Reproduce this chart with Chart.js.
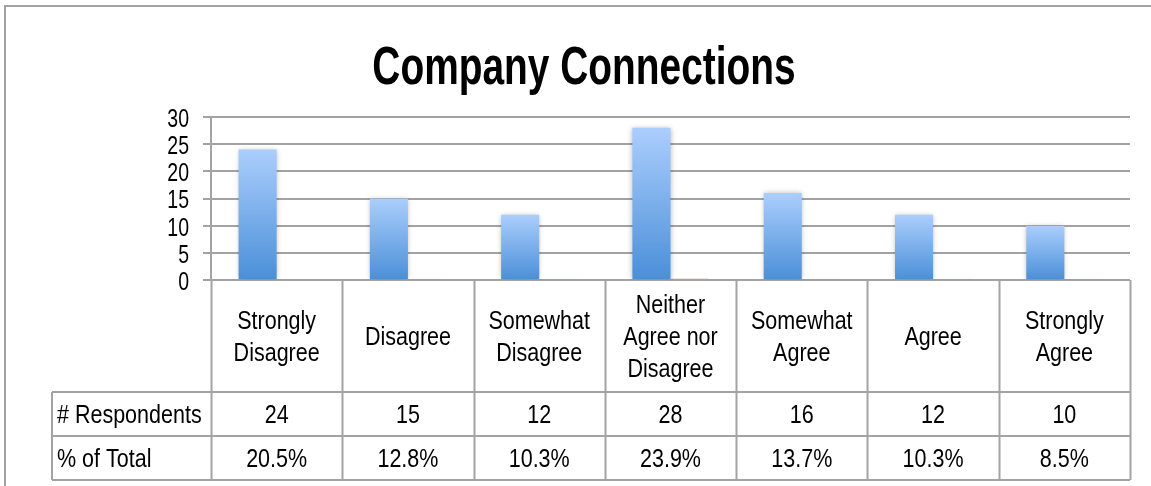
<!DOCTYPE html>
<html>
<head>
<meta charset="utf-8">
<title>Company Connections</title>
<script src="https://cdn.jsdelivr.net/npm/chart.js@4.4.1/dist/chart.umd.min.js"></script>
<style>
  html, body { margin: 0; padding: 0; background: #fff; }
  #wrap { position: relative; width: 1151px; height: 486px; }
</style>
</head>
<body>
<div id="wrap"><canvas id="connChart"></canvas></div>
<script>
// survey answers, one column each
const categories = [
    ['Strongly', 'Disagree'],
    ['Disagree'],
    ['Somewhat', 'Disagree'],
    ['Neither', 'Agree nor', 'Disagree'],
    ['Somewhat', 'Agree'],
    ['Agree'],
    ['Strongly', 'Agree']
];
const respondents = [24, 15, 12, 28, 16, 12, 10];
const pctOfTotal = [20.5, 12.8, 10.3, 23.9, 13.7, 10.3, 8.5];
const yTicks = [0, 5, 10, 15, 20, 25, 30];
const rowLabels = ['# Respondents', '% of Total'];
const chartTitle = 'Company Connections';

const FONT = "'Liberation Sans', Arial, sans-serif";
const LINE = '#a3a3a3';
const HEADER_H = 112;
const ROW_H = 44;
const TABLE_LEFT = 52;
// no narrow face is installed, so text is squeezed horizontally
const BODY_SX = 0.86;
const TICK_SX = 0.78;
const TITLE_SX = 0.72;

function squeezed(ctx, text, x, y, sx) {
    ctx.save();
    ctx.translate(x, y);
    ctx.scale(sx, 1);
    ctx.fillText(text, 0, 0);
    ctx.restore();
}

// outer frame, title, y labels and the data table under the plot
const tablePlugin = {
    id: 'dataTable',
    beforeDraw(chart) {
        const ctx = chart.ctx;
        ctx.save();
        ctx.strokeStyle = LINE;
        ctx.lineWidth = 2;
        ctx.beginPath();
        ctx.moveTo(5, 486);
        ctx.lineTo(5, 6);
        ctx.lineTo(1151, 6);
        ctx.stroke();
        ctx.restore();
    },
    beforeDatasetDraw(chart, args) {
        if (args.index !== 0) return;
        const ctx = chart.ctx;
        ctx.save();
        ctx.shadowColor = 'rgba(0,0,0,0.28)';
        ctx.shadowBlur = 5;
    },
    afterDatasetDraw(chart, args) {
        if (args.index !== 0) return;
        chart.ctx.restore();
    },
    afterDraw(chart) {
        const ctx = chart.ctx;
        const area = chart.chartArea;
        const xs = chart.scales.x;
        const ys = chart.scales.y;
        const n = categories.length;
        const w = (area.right - area.left) / n;
        const top = area.bottom;
        const headBottom = top + HEADER_H;
        const bottom = headBottom + ROW_H * rowLabels.length;

        ctx.save();
        ctx.fillStyle = '#000';

        // title
        ctx.font = 'bold 54px ' + FONT;
        ctx.textAlign = 'center';
        ctx.textBaseline = 'alphabetic';
        squeezed(ctx, chartTitle, 584, 84, TITLE_SX);

        // y tick labels
        ctx.font = '25px ' + FONT;
        ctx.textAlign = 'right';
        ctx.textBaseline = 'middle';
        ys.ticks.forEach(t => {
            squeezed(ctx, String(t.value), area.left - 22, ys.getPixelForValue(t.value) + 3, TICK_SX);
        });

        // grid of the table
        ctx.strokeStyle = LINE;
        ctx.lineWidth = 2;
        ctx.beginPath();
        for (let k = 0; k <= n; k++) {
            const x = Math.round(area.left + k * w) + 0.5;
            ctx.moveTo(x, top);
            ctx.lineTo(x, bottom);
        }
        for (let r = 0; r <= rowLabels.length; r++) {
            const y = headBottom + r * ROW_H;
            ctx.moveTo(TABLE_LEFT, y);
            ctx.lineTo(area.right, y);
        }
        ctx.moveTo(TABLE_LEFT, headBottom);
        ctx.lineTo(TABLE_LEFT, bottom);
        ctx.stroke();

        // header labels
        ctx.font = '25px ' + FONT;
        ctx.textAlign = 'center';
        const lh = 32;
        categories.forEach((lines, i) => {
            const cx = xs.getPixelForValue(i);
            const y0 = top + HEADER_H / 2 - (lines.length - 1) * lh / 2 + 2;
            lines.forEach((t, j) => squeezed(ctx, t, cx, y0 + j * lh, BODY_SX));
        });

        // value rows
        const rows = [respondents.map(String), pctOfTotal.map(v => v.toFixed(1) + '%')];
        rows.forEach((vals, r) => {
            const cy = headBottom + r * ROW_H + ROW_H / 2 + 2;
            ctx.textAlign = 'left';
            squeezed(ctx, rowLabels[r], TABLE_LEFT + 5, cy, BODY_SX);
            ctx.textAlign = 'center';
            vals.forEach((t, i) => squeezed(ctx, t, xs.getPixelForValue(i), cy, BODY_SX));
        });
        ctx.restore();
    }
};

function barGradient(c) {
    const chart = c.chart;
    if (!chart.chartArea || c.type !== 'data') return '#7aaeea';
    const y = chart.scales.y;
    const topPx = y.getPixelForValue(c.raw);
    const basePx = y.getPixelForValue(0);
    const g = chart.ctx.createLinearGradient(0, topPx, 0, basePx);
    g.addColorStop(0, '#abcefd');
    g.addColorStop(1, '#4a8fd8');
    return g;
}

new Chart(document.getElementById('connChart'), {
    type: 'bar',
    data: {
        labels: categories.map(l => l.join(' ')),
        datasets: [{
            label: rowLabels[0],
            data: respondents,
            backgroundColor: barGradient,
            borderWidth: 0
        }, {
            label: rowLabels[1],
            data: pctOfTotal.map(v => v / 100),
            backgroundColor: '#e07f7f',
            borderWidth: 0
        }]
    },
    options: {
        responsive: true,
        maintainAspectRatio: false,
        animation: false,
        barPercentage: 1,
        categoryPercentage: 0.58,
        layout: { padding: { top: 117, right: 21, bottom: 206, left: 0 } },
        plugins: {
            legend: { display: false },
            tooltip: { enabled: false },
            title: { display: false }
        },
        scales: {
            x: { display: false },
            y: {
                min: 0,
                max: 30,
                afterBuildTicks: s => { s.ticks = yTicks.map(v => ({ value: v })); },
                afterFit: s => { s.width = 211; },
                ticks: { display: false },
                grid: { color: LINE, lineWidth: 2, tickLength: 8 },
                border: { color: LINE, width: 2 }
            }
        }
    },
    plugins: [tablePlugin]
});
</script>
</body>
</html>
